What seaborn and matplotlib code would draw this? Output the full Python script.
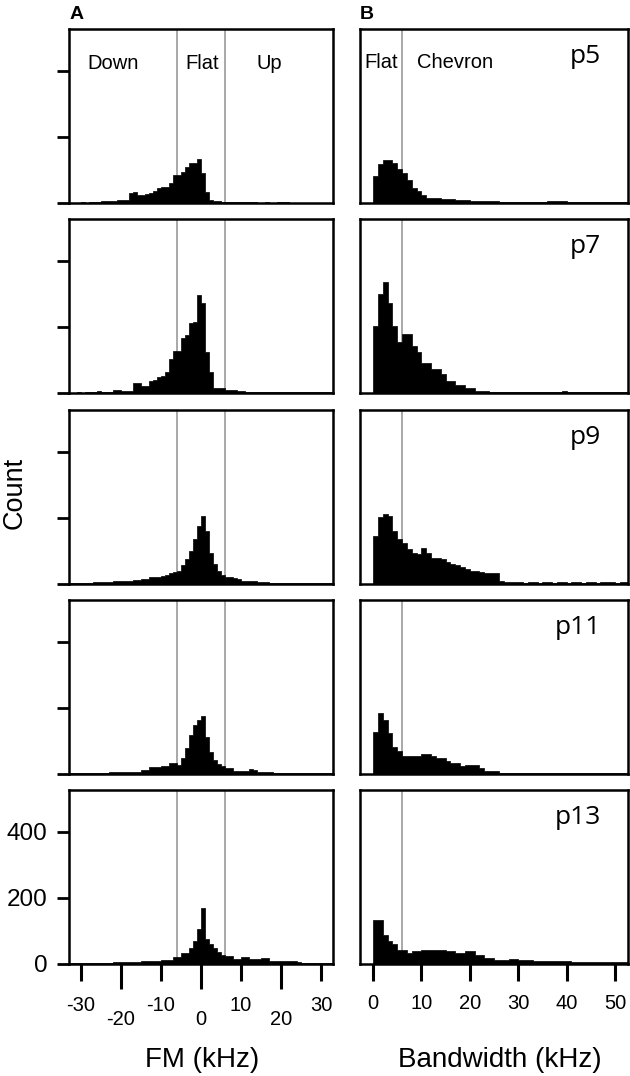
import numpy as np
import pandas as pd
import seaborn as sns
import matplotlib.pyplot as plt
import matplotlib.transforms as mtransforms

# 1 kHz bins, FM from -33 to 33, bandwidth from 0 to 53
fm_edges = list(range(-33, 34))
bw_edges = list(range(0, 54))
fm_centers = [e + 0.5 for e in fm_edges[:-1]]
bw_centers = [e + 0.5 for e in bw_edges[:-1]]

ages = ['p5', 'p7', 'p9', 'p11', 'p13']

# counts per FM bin (-33 .. 32)
fm_p5 = [1, 1, 1, 2, 1, 2, 2, 4, 5, 5, 7, 7, 9, 10, 10, 30, 32, 25, 25, 28, 30, 35,
         45, 48, 48, 62, 86, 84, 93, 110, 120, 122, 133, 92, 32, 8, 6, 5, 4, 3, 4, 4,
         3, 2, 2, 2, 2, 1, 1, 2, 1, 1, 2, 4, 3, 1, 1, 1, 1, 1, 1, 1, 1, 1, 1, 1]
fm_p7 = [1, 1, 2, 1, 2, 2, 4, 5, 4, 3, 3, 8, 8, 7, 5, 6, 30, 30, 21, 21, 36, 40,
         48, 50, 64, 103, 127, 127, 167, 176, 212, 215, 297, 272, 124, 64, 15, 15, 15, 10, 10, 10,
         6, 6, 4, 3, 3, 2, 3, 2, 2, 3, 2, 2, 2, 3, 2, 2, 2, 2, 2, 2, 2, 3, 2, 2]
fm_p9 = [3, 3, 3, 3, 3, 4, 7, 7, 7, 7, 7, 8, 8, 10, 10, 10, 11, 12, 15, 16, 20, 20,
         22, 25, 26, 33, 35, 40, 58, 75, 100, 135, 175, 206, 160, 95, 60, 40, 28, 22, 20, 18,
         14, 10, 10, 9, 8, 7, 5, 5, 3, 3, 3, 2, 2, 2, 2, 2, 2, 2, 2, 2, 2, 2, 2, 2]
fm_p11 = [3, 3, 3, 3, 3, 3, 3, 3, 3, 3, 6, 6, 6, 6, 6, 6, 6, 6, 13, 13, 21, 21,
          21, 24, 24, 33, 33, 27, 48, 79, 118, 148, 165, 176, 112, 68, 42, 30, 24, 18, 18, 9,
          9, 9, 9, 15, 12, 7, 7, 7, 6, 3, 3, 3, 3, 3, 3, 3, 3, 3, 3, 3, 3, 3, 3, 3]
fm_p13 = [3, 3, 3, 3, 3, 3, 3, 3, 3, 3, 3, 6, 6, 6, 6, 6, 6, 6, 9, 9, 9, 9,
          9, 12, 12, 12, 21, 21, 33, 33, 48, 70, 106, 170, 75, 60, 48, 35, 27, 24, 24, 15,
          15, 21, 21, 15, 15, 15, 18, 18, 9, 9, 9, 8, 8, 8, 8, 5, 3, 3, 3, 3, 3, 2, 2, 2]

# counts per bandwidth bin (0 .. 52)
bw_p5 = [81, 118, 131, 131, 121, 103, 91, 71, 45, 35, 25, 15, 15, 15, 12, 12, 12, 8,
         8, 8, 5, 5, 5, 5, 5, 5, 3, 3, 3, 3, 3, 3, 3, 3, 3, 3, 5, 5, 5, 5,
         3, 3, 3, 3, 3, 3, 3, 3, 3, 3, 3, 3, 3]
bw_p7 = [203, 300, 336, 273, 203, 155, 179, 179, 142, 124, 91, 91, 73, 73, 58, 36, 36, 24,
         24, 15, 15, 6, 6, 6, 3, 3, 3, 3, 3, 3, 3, 3, 3, 3, 3, 3, 3, 3, 3, 6,
         3, 3, 3, 3, 3, 3, 3, 3, 3, 3, 3, 3, 3]
bw_p9 = [146, 204, 212, 205, 160, 136, 125, 105, 95, 91, 108, 95, 80, 78, 76, 68, 62, 58,
         51, 45, 40, 38, 35, 32, 32, 32, 10, 7, 5, 5, 5, 4, 5, 5, 4, 5, 5, 4, 5, 5,
         4, 5, 5, 4, 5, 5, 4, 5, 6, 5, 4, 5, 5]
bw_p11 = [127, 185, 164, 124, 82, 70, 55, 55, 55, 55, 61, 61, 55, 48, 48, 39, 33, 33,
          24, 27, 27, 27, 18, 9, 9, 9, 4, 4, 4, 4, 4, 4, 4, 4, 4, 4, 4, 4, 4, 4,
          4, 4, 4, 4, 4, 4, 4, 4, 4, 4, 4, 4, 4]
bw_p13 = [134, 134, 88, 70, 61, 42, 42, 33, 39, 39, 42, 42, 42, 42, 42, 38, 38, 33,
          33, 38, 38, 28, 28, 18, 18, 12, 12, 12, 15, 15, 11, 11, 11, 8, 8, 8, 8, 8, 8, 8,
          10, 6, 6, 6, 6, 6, 6, 6, 6, 6, 6, 6, 6]

fm_counts = [fm_p5, fm_p7, fm_p9, fm_p11, fm_p13]
bw_counts = [bw_p5, bw_p7, bw_p9, bw_p11, bw_p13]

fm_bounds = [-6, 6]
bw_bound = 6

sns.set_style('ticks')
plt.rcParams['font.family'] = ['Liberation Sans', 'DejaVu Sans']
for key in ['text.color', 'axes.labelcolor', 'xtick.color', 'ytick.color']:
    plt.rcParams[key] = 'black'

W, H = 630, 1076
fig = plt.figure(figsize=(W / 100, H / 100), dpi=100)
panel_tops = [29, 219, 410, 600, 790]
panel_h = 174


def add_panel(x0, x1, top):
    return fig.add_axes([x0 / W, 1 - (top + panel_h) / H, (x1 - x0) / W, panel_h / H])


def style_axes(ax):
    for s in ax.spines.values():
        s.set_visible(True)
        s.set_linewidth(1.8)
        s.set_color('black')
    ax.set_xlabel('')
    ax.set_ylabel('')
    ax.set_ylim(0, 527)


for i, age in enumerate(ages):
    last = i == len(ages) - 1
    fm_df = pd.DataFrame({'fm': fm_centers, 'n': fm_counts[i]})
    bw_df = pd.DataFrame({'bw': bw_centers, 'n': bw_counts[i]})

    # FM panel
    axl = add_panel(69, 333, panel_tops[i])
    sns.histplot(data=fm_df, x='fm', weights='n', bins=fm_edges, element='step',
                 fill=True, color='black', alpha=1, linewidth=0.5, ax=axl)
    for b in fm_bounds:
        axl.axvline(b, color='#999999', lw=1.2, zorder=0.5)
    style_axes(axl)
    axl.set_xlim(-33, 33)
    axl.set_yticks([0, 200, 400])
    axl.tick_params(axis='y', length=8.5, width=2, pad=7, labelsize=17.5,
                    labelleft=last)

    # bandwidth panel
    axr = add_panel(360, 628, panel_tops[i])
    sns.histplot(data=bw_df, x='bw', weights='n', bins=bw_edges, element='step',
                 fill=True, color='black', alpha=1, linewidth=0.5, ax=axr)
    axr.axvline(bw_bound, color='#999999', lw=1.2, zorder=0.5)
    style_axes(axr)
    axr.set_xlim(-2.7, 52.7)
    axr.tick_params(axis='y', left=False, labelleft=False)

    axr.text(0.9, 0.805, age, transform=axr.transAxes, ha='right', va='baseline',
             fontsize=19, family=['Open Sans', 'DejaVu Sans'])

    if last:
        axl.set_xticks([-20, 0, 20])
        axl.set_xticklabels(['-20', '0', '20'])
        axl.set_xticks([-30, -10, 10, 30], minor=True)
        axl.set_xticklabels(['-30', '-10', '10', '30'], minor=True)
        axl.tick_params(axis='x', which='major', length=18, width=2.2, pad=15,
                        labelsize=14.5)
        axl.tick_params(axis='x', which='minor', length=12, width=2.2, pad=11,
                        labelsize=14.5)
        axr.set_xticks(range(0, 51, 10))
        axr.tick_params(axis='x', length=12, width=2.2, pad=9.5, labelsize=14.5)
    else:
        axl.tick_params(axis='x', which='both', bottom=False, labelbottom=False)
        axr.tick_params(axis='x', which='both', bottom=False, labelbottom=False)

    if i == 0:
        tl = mtransforms.blended_transform_factory(axl.transData, axl.transAxes)
        for xpos, lab in zip([-22, 0.25, 17], ['Down', 'Flat', 'Up']):
            axl.text(xpos, 0.77, lab, transform=tl, ha='center', va='baseline',
                     fontsize=14.5)
        tr = mtransforms.blended_transform_factory(axr.transData, axr.transAxes)
        for xpos, lab in zip([1.65, 17], ['Flat', 'Chevron']):
            axr.text(xpos, 0.775, lab, transform=tr, ha='center', va='baseline',
                     fontsize=14.5)

# panel letters and axis titles
fig.text(70 / W, 1 - 6 / H, 'A', fontsize=14, fontweight='bold', va='top')
fig.text(360 / W, 1 - 6 / H, 'B', fontsize=14, fontweight='bold', va='top')
fig.text(15 / W, 1 - 493 / H, 'Count', rotation=90, ha='center', va='center',
         fontsize=19.5)
fig.text(202 / W, 1 - 1067 / H, 'FM (kHz)', ha='center', va='baseline', fontsize=20)
fig.text(500 / W, 1 - 1067 / H, 'Bandwidth (kHz)', ha='center', va='baseline',
         fontsize=20)

fig.savefig('out.png', dpi=100)
